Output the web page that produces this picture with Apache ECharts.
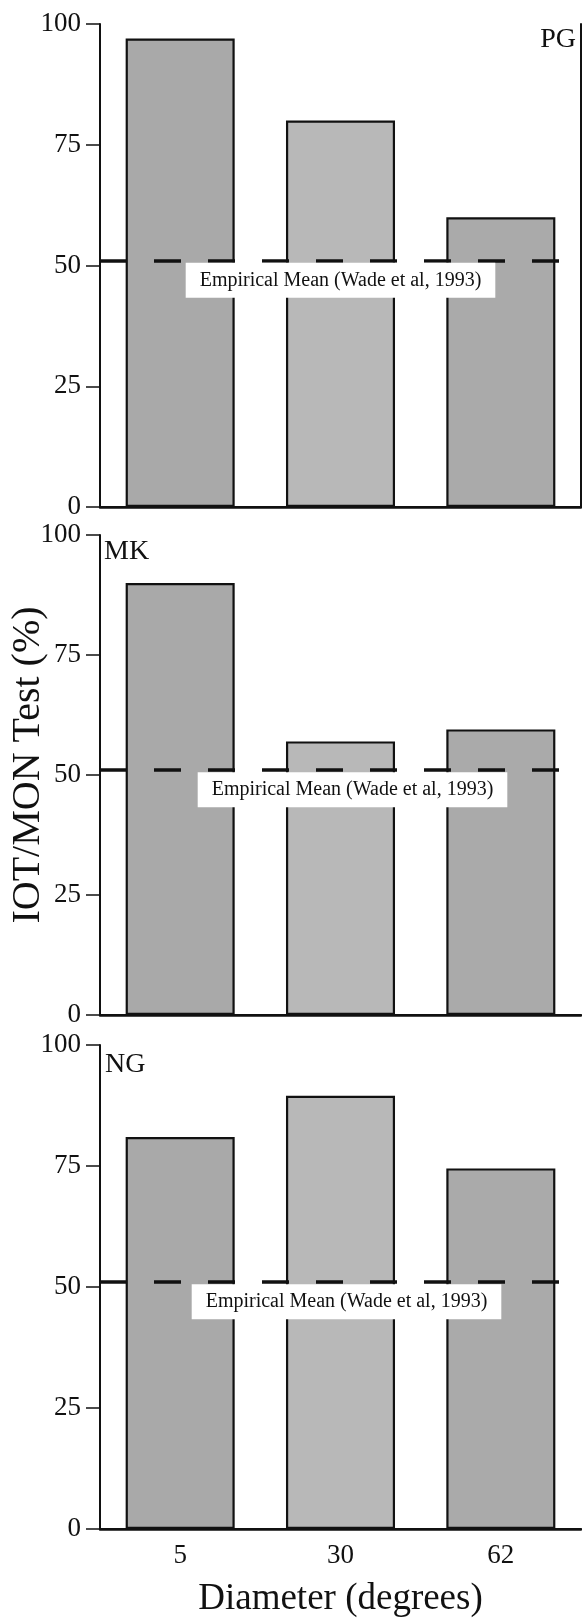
<!DOCTYPE html>
<html>
<head>
<meta charset="utf-8">
<script src="https://cdn.jsdelivr.net/npm/echarts@6/dist/echarts.min.js"></script>
<style>
  html, body { margin: 0; padding: 0; background: #fff; }
  #chart { width: 582px; height: 1620px; }
</style>
</head>
<body>
<div id="chart"></div>
<script>
// Stimulus diameters (x categories)
const categories = ['5', '30', '62'];
// IOT/MON test scores (%) per observer
const panelNames = ['PG', 'MK', 'NG'];
const pgValues = [97, 80, 60];
const mkValues = [90, 57, 59.5];
const ngValues = [81, 89.5, 74.5];
// Empirical mean reference level (Wade et al, 1993)
const empiricalMean = 51;
const meanLabel = 'Empirical Mean (Wade et al, 1993)';
const yAxisTitle = 'IOT/MON Test (%)';
const xAxisTitle = 'Diameter (degrees)';

const panelValues = [pgValues, mkValues, ngValues];

const FONT = '"Liberation Serif", "Times New Roman", serif';
const INK = '#111';
const barColors = ['#a9a9a9', '#b8b8b8', '#aaaaaa'];

// panel frames
const grids = [
  { left: 100, top: 24, width: 481, height: 483 },
  { left: 100, top: 535, width: 481, height: 480 },
  { left: 100, top: 1045, width: 481, height: 484 }
].map(g => Object.assign(g, { containLabel: false, outerBoundsMode: 'none' }));
const labelShift = [0, 12, 6];

const xAxes = [];
const yAxes = [];
const series = [];

grids.forEach((g, i) => {
  const isLast = i === grids.length - 1;
  // bottom category axis
  xAxes.push({
    type: 'category', gridIndex: i, data: categories, position: 'bottom',
    axisLine: { lineStyle: { color: INK, width: 2.5 } },
    axisTick: { alignWithLabel: true, length: 11, lineStyle: { color: INK, width: 2 } },
    axisLabel: { show: isLast, margin: 13, fontSize: 27, fontFamily: FONT, color: INK },
    splitLine: { show: false },
    name: isLast ? xAxisTitle : '',
    nameLocation: 'middle', nameGap: 52,
    nameTextStyle: { fontSize: 37, fontFamily: FONT, color: INK }
  });
  // top frame line
  xAxes.push({
    type: 'category', gridIndex: i, data: categories, position: 'top',
    axisLine: { lineStyle: { color: INK, width: 2 } },
    axisTick: { show: false }, axisLabel: { show: false }, splitLine: { show: false }
  });
  // left value axis
  yAxes.push({
    type: 'value', gridIndex: i, min: 0, max: 100, interval: 25, position: 'left',
    axisLine: { show: true, lineStyle: { color: INK, width: 2 } },
    axisTick: { show: true, length: 14, lineStyle: { color: INK, width: 1.5 } },
    axisLabel: { margin: 19, fontSize: 27, fontFamily: FONT, color: INK },
    splitLine: { show: false },
    name: i === 1 ? yAxisTitle : '',
    nameLocation: 'middle', nameGap: 52,
    nameMoveOverlap: false,
    nameTextStyle: { fontSize: 40, fontFamily: FONT, color: INK, padding: [0, 0, 0, 20] }
  });
  // right frame line (first panel only)
  yAxes.push({
    type: 'value', gridIndex: i, min: 0, max: 100, position: 'right',
    axisLine: { show: i === 0, lineStyle: { color: INK, width: 2 } },
    axisTick: { show: false }, axisLabel: { show: false }, splitLine: { show: false }
  });

  series.push({
    type: 'bar',
    xAxisIndex: i * 2,
    yAxisIndex: i * 2,
    data: panelValues[i],
    barWidth: '68%',
    itemStyle: {
      color: p => barColors[p.dataIndex],
      borderColor: INK,
      borderWidth: 2.2
    },
    emphasis: { disabled: true },
    markLine: {
      silent: true,
      symbol: 'none',
      data: [{ yAxis: empiricalMean }],
      lineStyle: { color: INK, width: 3.5, type: [27, 27] },
      emphasis: { disabled: true },
      label: {
        show: true,
        position: 'insideMiddleBottom',
        formatter: meanLabel,
        distance: 2,
        offset: [labelShift[i], 0],
        backgroundColor: '#fff',
        padding: [8, 14, 7, 14],
        fontSize: 20,
        fontFamily: FONT,
        color: INK
      }
    }
  });
});

const titles = [
  { text: panelNames[0], right: 6, top: 26 },
  { text: panelNames[1], left: 104, top: 538 },
  { text: panelNames[2], left: 105, top: 1051 }
].map(t => Object.assign(t, {
  padding: 0,
  textStyle: { fontSize: 28, fontWeight: 'normal', fontFamily: FONT, color: INK }
}));

const chart = echarts.init(document.getElementById('chart'), null, { renderer: 'canvas' });
chart.setOption({
  animation: false,
  backgroundColor: '#fff',
  title: titles,
  grid: grids,
  xAxis: xAxes,
  yAxis: yAxes,
  series: series
});
</script>
</body>
</html>
